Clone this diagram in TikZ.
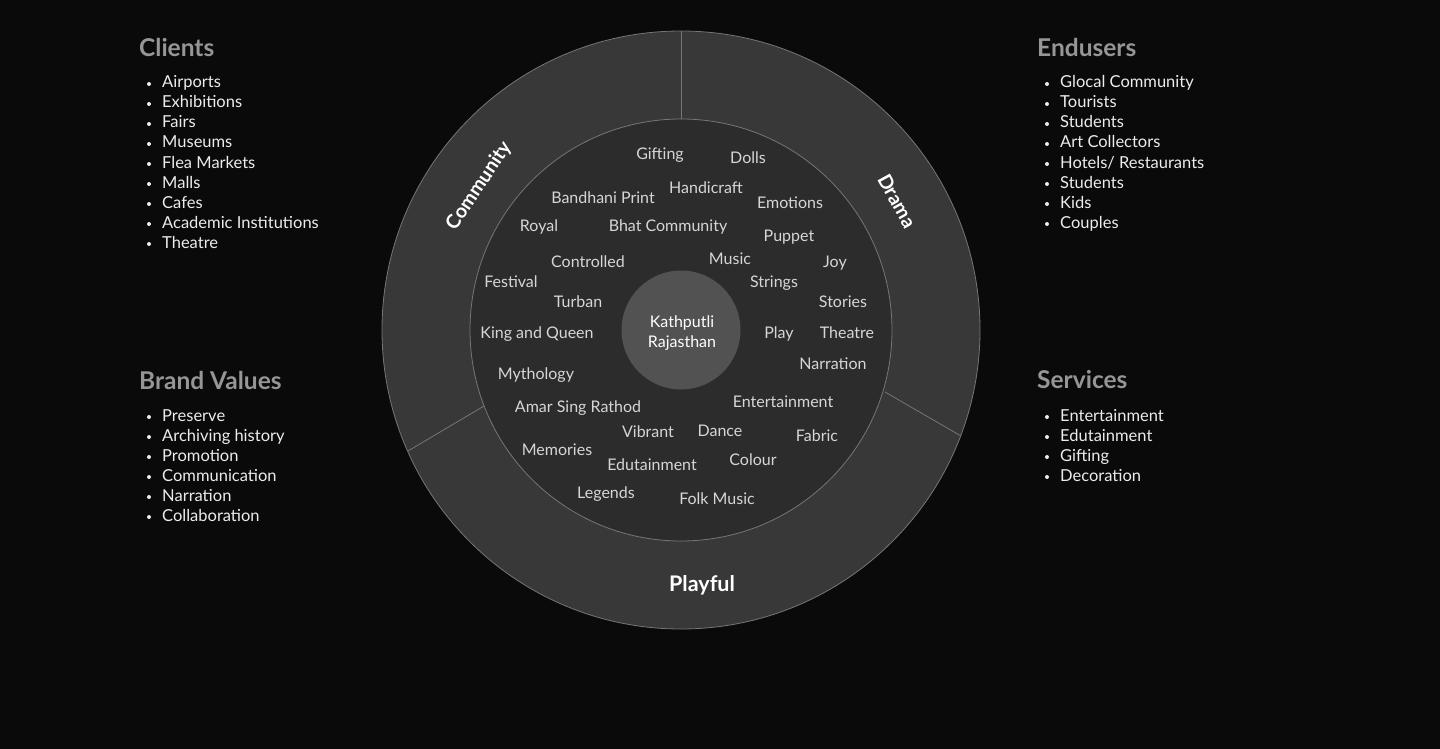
\documentclass[tikz,border=0pt]{standalone}
\usepackage{fontspec}
\setmainfont{Lato}
\definecolor{kbg}{RGB}{10,10,10}
\definecolor{kring}{RGB}{56,56,56}
\definecolor{kinner}{RGB}{44,44,44}
\definecolor{khub}{RGB}{82,82,82}
\definecolor{kline}{RGB}{118,118,118}
\definecolor{khead}{RGB}{150,150,150}
\definecolor{kword}{RGB}{214,214,214}
\definecolor{kitem}{RGB}{236,236,236}
\tikzset{
  head/.style={anchor=west, inner sep=0pt, text=khead, font=\fontsize{24.5}{28}\selectfont\bfseries},
  item/.style={anchor=west, inner sep=0pt, text=kitem, text height=11pt, text depth=3pt, font=\fontsize{16.5}{19}\selectfont},
  dot/.style={circle, fill=kitem, inner sep=0pt, minimum size=4pt},
  word/.style={inner sep=0pt, text=kword, text height=11pt, text depth=3pt, font=\fontsize{16}{18}\selectfont},
  ringlabel/.style={inner sep=0pt, text=white, font=\fontsize{21.5}{24}\selectfont\bfseries},
  sidelabel/.style={ringlabel, font=\fontsize{19.5}{22}\selectfont\bfseries}
}

\begin{document}
\begin{tikzpicture}[x=1pt,y=-1pt]
\fill[kbg] (0,0) rectangle (1440,749); %Background
\useasboundingbox (0,0) rectangle (1440,749);
% wheel
\coordinate (c) at (681,330);
\fill[kring, draw=kline, line width=0.8pt] (c) circle (299); %Outer ring
\fill[kinner, draw=kline, line width=0.8pt] (c) circle (211); %Inner disk
\draw[kline, line width=0.8pt] (681,119) -- (681,31); %Divider top
\draw[kline, line width=0.8pt] (484,406) -- (408,451); %Divider left
\draw[kline, line width=0.8pt] (885,392) -- (961,436); %Divider right
\node[circle, fill=khub, minimum size=119pt, inner sep=0pt] (hub) at (c) {};
\node[word, text=white, align=center, font=\fontsize{16}{20}\selectfont, text height=, text depth=] (kath) at (682,333) {Kathputli\\Rajasthan};
% ring labels
\node[sidelabel, rotate=56] (community) at (479,186) {Community};
\node[sidelabel, rotate=-61] (drama) at (897,201) {Drama};
\node[ringlabel] (playful) at (702,585) {Playful};
% inner words
\node[word] (gifting) at (660,155) {Gifting};
\node[word] (dolls) at (748,160) {Dolls};
\node[word] (handicraft) at (706,189) {Handicraft};
\node[word] (bandhani) at (603,199) {Bandhani Print};
\node[word] (emotions) at (790,204) {Emotions};
\node[word] (royal) at (539,227) {Royal};
\node[word] (bhat) at (668,227) {Bhat Community};
\node[word] (puppet) at (789,237) {Puppet};
\node[word] (music) at (730,260) {Music};
\node[word] (controlled) at (588,263) {Controlled};
\node[word] (joy) at (835,263) {Joy};
\node[word] (festival) at (511,283) {Festival};
\node[word] (strings) at (774,283) {Strings};
\node[word] (turban) at (578,303) {Turban};
\node[word] (stories) at (843,303) {Stories};
\node[word] (king) at (537,334) {King and Queen};
\node[word] (play) at (779,334) {Play};
\node[word] (theatre) at (847,334) {Theatre};
\node[word] (narration) at (833,365) {Narration};
\node[word] (mythology) at (536,375) {Mythology};
\node[word] (entertain) at (783,403) {Entertainment};
\node[word] (amar) at (578,408) {Amar Sing Rathod};
\node[word] (vibrant) at (648,433) {Vibrant};
\node[word] (dance) at (720,432) {Dance};
\node[word] (fabric) at (817,437) {Fabric};
\node[word] (memories) at (557,451) {Memories};
\node[word] (colour) at (753,461) {Colour};
\node[word] (edutain) at (652,466) {Edutainment};
\node[word] (legends) at (606,494) {Legends};
\node[word] (folk) at (717,500) {Folk Music};
% lists
\node[head] (clients) at (139,47) {Clients};
\foreach \t [count=\i] in {Airports,Exhibitions,Fairs,Museums,Flea Markets,Malls,Cafes,Academic Institutions,Theatre}{
  \node[dot] (cldot\i) at (149,64+20*\i) {};
  \node[item] (cl\i) at (162,64+20*\i) {\t};
}
\node[head] (brand) at (139,380) {Brand Values};
\foreach \t [count=\i] in {Preserve,Archiving history,Promotion,Communication,Narration,Collaboration}{
  \node[dot] (bvdot\i) at (149,397+20*\i) {};
  \node[item] (bv\i) at (162,397+20*\i) {\t};
}
\node[head] (endusers) at (1037,47) {Endusers};
\foreach \t [count=\i] in {Glocal Community,Tourists,Students,Art Collectors,Hotels/ Restaurants,Students,Kids,Couples}{
  \node[dot] (eudot\i) at (1047,64+20*\i) {};
  \node[item] (eu\i) at (1060,64+20*\i) {\t};
}
\node[head] (services) at (1037,380) {Services};
\foreach \t [count=\i] in {Entertainment,Edutainment,Gifting,Decoration}{
  \node[dot] (svdot\i) at (1047,397+20*\i) {};
  \node[item] (sv\i) at (1060,397+20*\i) {\t};
}
\end{tikzpicture}
\end{document}
